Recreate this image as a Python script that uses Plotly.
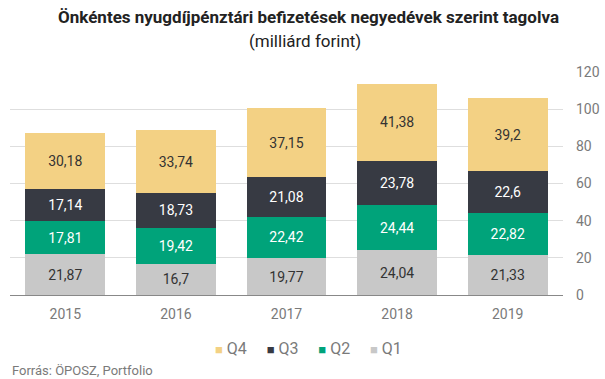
import plotly.graph_objects as go

years = ["2015", "2016", "2017", "2018", "2019"]
q1 = [21.87, 16.7, 19.77, 24.04, 21.33]
q2 = [17.81, 19.42, 22.42, 24.44, 22.82]
q3 = [17.14, 18.73, 21.08, 23.78, 22.6]
q4 = [30.18, 33.74, 37.15, 41.38, 39.2]

series = [
    ("Q1", q1, "#C8C8C8", "#333333"),
    ("Q2", q2, "#00A37A", "#FFFFFF"),
    ("Q3", q3, "#373A43", "#FFFFFF"),
    ("Q4", q4, "#F3D184", "#333333"),
]

def fmt(v):
    return ("%g" % v).replace(".", ",")

fig = go.Figure()
for name, vals, color, tcolor in series:
    fig.add_trace(go.Bar(
        x=years, y=vals, name=name,
        marker=dict(color=color, line=dict(width=0)),
        text=[fmt(v) for v in vals],
        textposition="inside", insidetextanchor="middle",
        textfont=dict(color=tcolor, size=14, family="Roboto"),
        hoverinfo="skip",
    ))

fig.update_layout(
    barmode="stack", bargap=0.28,
    width=605, height=379,
    margin=dict(l=10, r=42, t=72, b=84, autoexpand=False),
    paper_bgcolor="white", plot_bgcolor="white",
    font=dict(family="Roboto", color="#7a7a7a"),
    showlegend=False,
    xaxis=dict(showgrid=False, tickfont=dict(size=14, color="#7a7a7a"), ticks="",
               showline=False, automargin=False, ticklabelstandoff=9),
    yaxis=dict(side="right", range=[0, 120], dtick=20, showgrid=True,
               gridcolor="#DEDEDE", gridwidth=1, zeroline=True, zerolinecolor="#888888",
               zerolinewidth=1, tickfont=dict(size=14, color="#7a7a7a"), ticks="",
               ticklabelstandoff=12, automargin=False),
    uniformtext=dict(minsize=8, mode="show"),
)

# legend drawn as a single line of text (reversed order: Q4 .. Q1)
parts = []
for name, vals, color, tcolor in reversed(series):
    parts.append("<span style='color:%s;font-size:13px'>■</span>"
                 "<span style='font-size:16px'>\u00a0%s</span>" % (color, name))
legend_text = ("\u00a0" * 5).join(parts)
fig.add_annotation(text=legend_text, xref="paper", yref="paper", x=(308 - 10) / 553, y=0,
                   yshift=-53, xanchor="center", yanchor="middle", showarrow=False,
                   font=dict(size=16, color="#7a7a7a", family="Roboto"))

fig.add_annotation(text="<b>Önkéntes nyugdíjpénztári befizetések negyedévek szerint tagolva</b>",
                   xref="paper", yref="paper", x=(308 - 10) / 553, y=1, yshift=55,
                   xanchor="center", yanchor="middle", showarrow=False,
                   font=dict(size=17, color="#222222", family="Roboto"))
fig.add_annotation(text="(milliárd forint)", xref="paper", yref="paper",
                   x=(305 - 10) / 553, y=1, yshift=31, xanchor="center",
                   yanchor="middle", showarrow=False,
                   font=dict(size=17, color="#222222", family="Roboto"))
fig.add_annotation(text="Forrás: ÖPOSZ, Portfolio", xref="paper", yref="paper",
                   x=0, y=0, yshift=-75, xanchor="left", yanchor="middle",
                   showarrow=False, font=dict(size=13, color="#7a7a7a", family="Roboto"))

fig.write_html("out.html", config={"displayModeBar": False},
               post_script="document.body.style.margin='0';document.body.style.padding='0';")
